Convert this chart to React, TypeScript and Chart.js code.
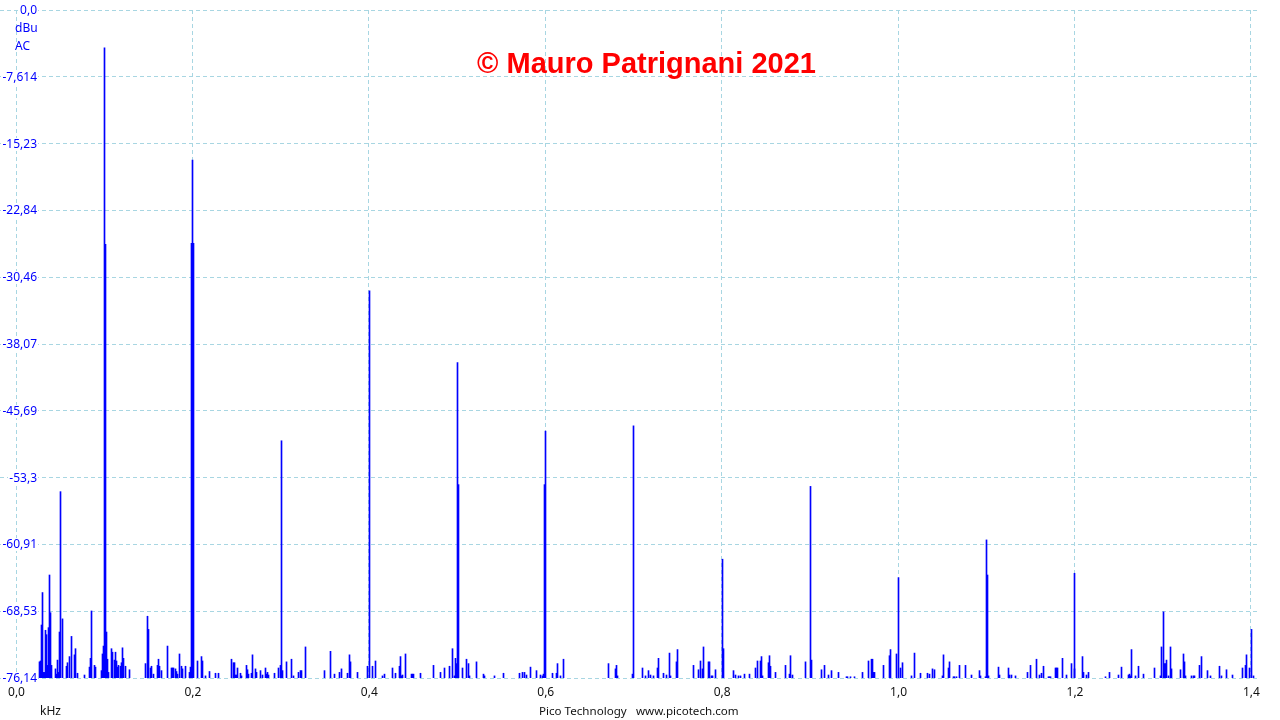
import React, { useEffect, useRef } from "react";
import { Chart, registerables } from "chart.js";

Chart.register(...registerables);

// Axis ticks
const xTickValues = [0, 0.2, 0.4, 0.6, 0.8, 1.0, 1.2, 1.4];
const xTickLabels = ["0,0", "0,2", "0,4", "0,6", "0,8", "1,0", "1,2", "1,4"];
const yTickValues = [0, -7.614, -15.228, -22.842, -30.456, -38.07, -45.684, -53.298, -60.912, -68.526, -76.14];
const yTickLabels = ["0,0", "-7,614", "-15,23", "-22,84", "-30,46", "-38,07", "-45,69", "-53,3", "-60,91", "-68,53", "-76,14"];

const yUnit = "dBu";
const yCoupling = "AC";
const xUnit = "kHz";
const titleText = "\u00A9 Mauro Patrignani 2021";
const footerLeft = "Pico Technology";
const footerRight = "www.picotech.com";

const floorLevel = -76.14;

// Harmonic peaks (Hz, dBu)
const harmonicHz = [50, 100, 100.9, 198.9, 200, 201.1, 300, 400, 500, 501.1, 598.9, 600, 700, 800, 801.5, 900, 901.2, 1000, 1100, 1101.1, 1200, 1300, 1400];
const harmonicDb = [-54.9, -4.3, -26.7, -26.6, -17.1, -26.6, -49.1, -32.0, -40.2, -54.1, -54.1, -48.0, -47.4, -62.6, -72.8, -54.3, -74.1, -64.7, -60.4, -64.4, -64.2, -68.6, -70.6];

// Noise floor bins (Hz, dBu)
const floorHz = [
  26.1, 27.2, 28.3, 29.5, 30.6, 31.7, 32.9, 34.0, 35.1, 36.3, 37.4, 38.5, 39.7, 44.2, 45.3, 46.5, 47.6, 48.7, 51.6,
  56.7, 57.8, 60.1, 62.3, 65.7, 66.9, 69.2, 77.1, 82.8, 83.9, 85.0, 88.4, 89.6, 96.4, 97.5, 98.6, 102.0, 103.2, 104.3,
  107.7, 108.8, 111.1, 112.2, 113.4, 114.5, 115.6, 117.9, 119.0, 120.2, 121.3, 123.6, 128.1, 146.2, 148.5, 149.6,
  151.9, 153.0, 155.3, 159.8, 161.0, 162.1, 164.4, 171.2, 175.7, 176.8, 178.0, 180.2, 181.4, 182.5, 184.8, 187.0,
  188.2, 191.6, 196.1, 197.2, 205.2, 209.7, 210.8, 214.3, 218.8, 225.6, 229.0, 243.7, 246.0, 247.1, 248.3, 249.4,
  250.5, 253.9, 255.1, 260.7, 261.9, 263.0, 266.4, 267.5, 270.9, 272.1, 276.6, 278.9, 282.3, 283.4, 284.5, 285.7,
  292.5, 297.0, 299.3, 301.5, 306.1, 311.7, 314.0, 319.7, 321.9, 323.1, 327.6, 349.1, 355.9, 360.5, 366.2, 368.4,
  375.2, 377.5, 378.6, 386.6, 397.9, 403.6, 407.0, 414.9, 417.2, 426.2, 429.6, 434.2, 435.3, 436.4, 437.6, 441.0,
  447.8, 448.9, 450.0, 458.0, 472.7, 480.6, 485.2, 490.9, 494.2, 496.5, 497.7, 498.8, 505.6, 510.1, 512.4, 513.5,
  521.5, 529.4, 530.5, 541.9, 552.1, 570.2, 573.6, 575.9, 578.1, 582.7, 589.5, 594.0, 596.3, 597.4, 607.6, 612.1,
  613.3, 616.7, 620.1, 671.1, 679.0, 680.2, 681.3, 698.3, 709.6, 713.0, 716.4, 718.7, 722.1, 726.6, 727.8, 733.4,
  736.8, 740.2, 741.4, 748.2, 749.3, 767.5, 773.1, 775.4, 777.6, 778.8, 784.5, 785.6, 787.9, 789.0, 792.4, 812.8,
  815.1, 818.5, 820.7, 825.3, 830.9, 837.7, 840.0, 843.4, 844.5, 845.7, 852.5, 853.6, 854.7, 860.4, 871.7, 876.3,
  877.4, 879.7, 894.4, 912.5, 916.0, 920.5, 923.9, 931.8, 940.9, 942.0, 945.4, 950.0, 959.0, 965.8, 969.2, 970.4,
  971.5, 972.6, 982.8, 989.6, 990.8, 997.6, 1002.1, 1004.4, 1014.6, 1018.0, 1024.8, 1032.7, 1035.0, 1038.4, 1040.7,
  1049.7, 1050.9, 1056.5, 1057.6, 1062.2, 1063.3, 1065.6, 1069.0, 1075.8, 1082.6, 1091.7, 1092.8, 1098.5, 1102.5,
  1113.2, 1114.3, 1124.5, 1125.7, 1127.9, 1132.5, 1146.1, 1149.5, 1156.3, 1159.7, 1161.9, 1164.2, 1169.9, 1171.1,
  1172.2, 1177.8, 1178.9, 1180.1, 1185.7, 1190.3, 1195.9, 1199.4, 1208.4, 1209.6, 1213.0, 1215.2, 1234.5, 1239.0,
  1249.2, 1252.6, 1260.6, 1261.7, 1262.9, 1264.0, 1268.5, 1271.9, 1277.6, 1290.0, 1296.8, 1298.0, 1301.4, 1302.5,
  1303.6, 1305.9, 1308.2, 1309.3, 1319.5, 1322.9, 1324.0, 1325.2, 1332.0, 1334.2, 1335.4, 1341.1, 1343.3, 1350.1,
  1353.5, 1363.7, 1366.0, 1371.7, 1378.5, 1389.8, 1393.2, 1394.3, 1397.7, 1402.3,
];
const floorDb = [
  -74.3, -74.2, -70.1, -66.4, -75.5, -75.5, -70.7, -71.2, -74.7, -70.4, -64.4, -68.7, -74.7, -75.1, -75.7, -74.1, -75.5, -70.9, -69.4,
  -74.8, -74.4, -73.7, -71.4, -73.5, -72.8, -75.6, -75.8, -74.9, -73.9, -68.5, -74.7, -74.9, -75.3, -73.4, -72.5, -70.9, -74.0, -75.5,
  -72.8, -73.2, -74.1, -73.2, -74.2, -74.9, -74.7, -74.8, -74.4, -72.7, -73.9, -74.8, -75.2, -74.5, -69.1, -70.6,
  -75.0, -74.8, -75.7, -74.7, -74.0, -74.8, -75.3, -72.5, -75.0, -75.0, -75.0, -75.1, -75.4, -75.7, -73.4, -74.8,
  -75.1, -74.8, -75.5, -74.9, -74.2, -73.7, -74.2, -75.9, -75.4, -75.6, -75.6, -74.0, -74.4, -74.4, -75.8, -75.8,
  -75.0, -75.6, -75.9, -74.7, -75.2, -75.7, -75.6, -73.5, -75.1, -75.5, -75.3, -75.8, -75.0, -75.7, -75.5, -75.8,
  -75.6, -75.0, -74.7, -75.3, -74.3, -74.0, -75.9, -75.5, -75.3, -75.3, -72.6, -75.3, -73.1, -75.7, -75.5, -75.1,
  -75.6, -73.5, -74.3, -75.5, -74.8, -74.8, -74.2, -75.9, -75.7, -75.0, -75.6, -74.8, -73.7, -75.9, -75.8, -73.4,
  -75.7, -75.7, -75.7, -75.6, -74.7, -75.5, -75.0, -74.8, -72.8, -75.9, -73.9, -74.5, -75.0, -74.0, -74.5, -75.9,
  -74.3, -75.7, -75.9, -75.9, -75.6, -75.6, -75.5, -75.5, -75.8, -74.9, -75.3, -75.8, -75.9, -75.7, -75.6, -75.6,
  -74.5, -75.9, -74.0, -74.5, -75.1, -74.7, -75.9, -75.7, -75.0, -75.9, -75.3, -75.8, -75.9, -75.0, -73.9, -75.6,
  -75.8, -73.3, -75.9, -74.3, -72.9, -74.7, -75.2, -74.2, -75.1, -72.6, -74.3, -74.3, -75.9, -75.9, -75.2, -75.3,
  -75.8, -75.9, -75.9, -75.7, -75.7, -75.0, -74.2, -74.2, -73.7, -75.9, -74.4, -73.6, -74.8, -75.5, -74.7, -75.7,
  -73.6, -75.8, -74.3, -75.2, -74.7, -75.8, -75.3, -75.5, -76.0, -76.0, -76.0, -76.0, -75.5, -74.2, -74.0, -74.0,
  -75.5, -75.5, -74.7, -73.6, -72.9, -73.4, -75.0, -74.4, -75.9, -73.3, -75.6, -75.6, -75.7, -75.1, -75.2,
  -75.9, -73.5, -75.0, -74.3, -76.0, -76.0, -76.0, -74.7, -74.7, -75.8, -75.3, -75.9, -76.0, -75.9,
  -74.9, -75.8, -75.0, -75.8, -75.8, -75.9, -75.5, -74.7, -74.0, -75.8, -75.6, -74.8, -76.0, -76.0,
  -76.0, -75.0, -75.0, -75.0, -73.9, -75.8, -74.5, -75.1, -73.7, -75.5, -75.8, -75.5, -76.0, -75.5,
  -75.8, -74.9, -75.8, -75.7, -75.9, -72.9, -75.9, -74.8, -75.7, -75.0, -75.9, -72.6, -74.5, -74.5,
  -74.1, -75.9, -72.6, -75.1, -75.2, -73.4, -74.3, -75.9, -75.9, -75.9, -75.9, -74.7, -73.7, -75.3,
  -75.9, -74.8, -75.9, -75.2, -75.8, -75.0, -74.7, -73.5, -75.0, -75.9,
];

const X_MIN = -0.01814;
const X_MAX = 1.4103;
const BLUE = "#0000ff";
const GRID = "rgb(168, 214, 226)";
const UI_FONT = '"Noto Sans", "DejaVu Sans", sans-serif';

const toBars = (hz: number[], db: number[]) =>
  hz.map((f, i) => ({ x: f / 1000, y: [floorLevel, db[i]] }));

const overlayPlugin = {
  id: "picoOverlay",
  afterDatasetsUpdate(chart: any) {
    chart.data.datasets.forEach((_: any, i: number) => {
      const meta = chart.getDatasetMeta(i);
      meta.data.forEach((el: any) => {
        el.x = Math.round(el.x) + 0.5;
      });
    });
  },
  afterDraw(chart: any) {
    const ctx: CanvasRenderingContext2D = chart.ctx;
    const xs = chart.scales.x;
    const ys = chart.scales.y;
    ctx.save();
    ctx.font = `12px ${UI_FONT}`;
    ctx.textBaseline = "middle";

    // Y tick labels (inside plot, white background)
    yTickValues.forEach((v, i) => {
      const y = Math.round(ys.getPixelForValue(v));
      const txt = yTickLabels[i];
      const w = ctx.measureText(txt).width;
      ctx.fillStyle = "#ffffff";
      ctx.fillRect(Math.floor(37 - w - 1), y - 6, Math.ceil(w + 2), 13);
      ctx.fillStyle = BLUE;
      ctx.textAlign = "right";
      ctx.fillText(txt, 37, y + 1);
    });
    ctx.textAlign = "left";
    ctx.fillStyle = BLUE;
    ctx.fillText(yUnit, 15, 29);
    ctx.fillText(yCoupling, 15, 47);

    // X tick labels
    ctx.fillStyle = "#111111";
    ctx.textAlign = "center";
    xTickValues.forEach((v, i) => {
      ctx.fillText(xTickLabels[i], xs.getPixelForValue(v) + 0.5, 693);
    });
    ctx.textAlign = "left";
    ctx.fillText(xUnit, 40, 712);
    ctx.font = `11.6px ${UI_FONT}`;
    ctx.fillText(footerLeft, 539, 712);
    ctx.fillText(footerRight, 636, 712);

    // Watermark title
    ctx.font = `bold 29px "Liberation Sans", Arial, sans-serif`;
    ctx.fillStyle = "#ff0000";
    ctx.textAlign = "center";
    ctx.fillText(titleText, 646.5, 65);
    ctx.restore();
  },
};

export default function App() {
  const canvasRef = useRef<HTMLCanvasElement | null>(null);

  useEffect(() => {
    const canvas = canvasRef.current;
    if (!canvas) return;
    const chart = new Chart(canvas, {
      type: "bar",
      data: {
        datasets: [
          {
            label: "floor",
            data: toBars(floorHz, floorDb) as any,
            backgroundColor: BLUE,
            borderWidth: 0,
            barThickness: 1,
            grouped: false,
          } as any,
          {
            label: "harmonics",
            data: toBars(harmonicHz, harmonicDb) as any,
            backgroundColor: BLUE,
            borderWidth: 0,
            barThickness: 1,
            grouped: false,
          } as any,
        ],
      },
      options: {
        responsive: false,
        animation: false,
        events: [],
        layout: { padding: { left: 0, top: 10, right: 20, bottom: 42 } },
        plugins: {
          legend: { display: false },
          tooltip: { enabled: false },
          title: { display: false },
        },
        scales: {
          x: {
            type: "linear",
            min: X_MIN,
            max: X_MAX,
            offset: false,
            afterBuildTicks: (scale: any) => {
              scale.ticks = xTickValues.map((v) => ({ value: v }));
            },
            afterFit: (scale: any) => {
              scale.height = 0;
            },
            ticks: { display: false },
            grid: {
              offset: false,
              color: GRID,
              lineWidth: 1,
              drawTicks: false,
              borderDash: [4, 3],
            } as any,
            border: { display: false, dash: [4, 3] },
          },
          y: {
            type: "linear",
            min: floorLevel,
            max: 0,
            afterBuildTicks: (scale: any) => {
              scale.ticks = yTickValues.map((v) => ({ value: v }));
            },
            afterFit: (scale: any) => {
              scale.width = 0;
            },
            ticks: { display: false },
            grid: {
              color: GRID,
              lineWidth: 1,
              drawTicks: false,
              borderDash: [4, 3],
            } as any,
            border: { display: false, dash: [4, 3] },
          },
        },
      } as any,
      plugins: [overlayPlugin],
    });
    return () => chart.destroy();
  }, []);

  return (
    <div style={{ position: "absolute", left: 0, top: 0, width: 1280, height: 720, background: "#ffffff" }}>
      <canvas ref={canvasRef} width={1280} height={720} style={{ display: "block" }} />
    </div>
  );
}
